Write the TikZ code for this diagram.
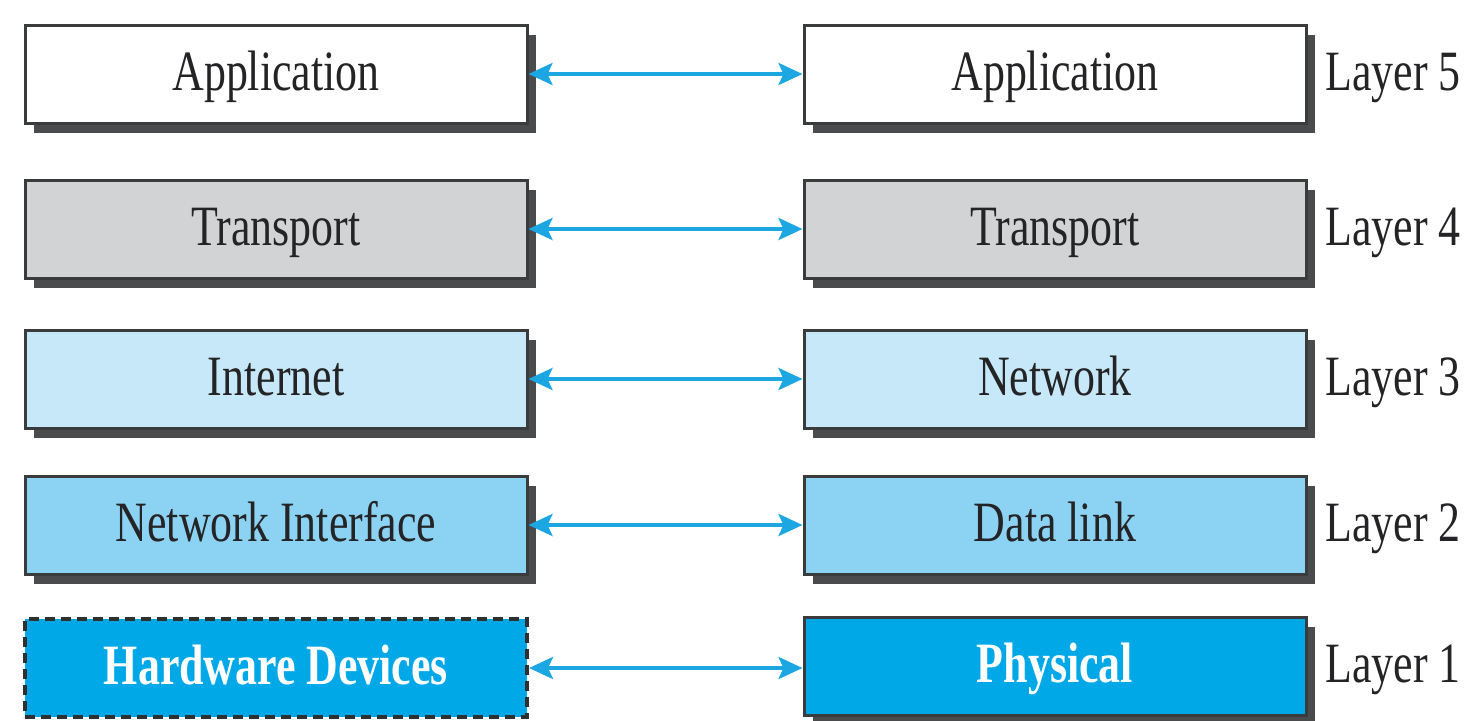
\documentclass[tikz,border=0pt]{standalone}
\usepackage{fontspec}
\setmainfont{Liberation Serif}[FakeStretch=0.77]
\usetikzlibrary{shadows,arrows.meta}
\definecolor{boxborder}{HTML}{3A3B3D}
\definecolor{shadowgray}{HTML}{4A4B4D}
\definecolor{txt}{HTML}{242426}
\definecolor{grayfill}{HTML}{D1D3D4}
\definecolor{lightblue}{HTML}{C6E8F8}
\definecolor{midblue}{HTML}{8CD3F3}
\definecolor{deepblue}{HTML}{00A8E8}
\definecolor{arrowblue}{HTML}{1CA7E2}
\begin{document}
\begin{tikzpicture}[x=0.5pt,y=-0.5pt,
  layerbox/.style={draw=boxborder, line width=1.5pt, minimum width=251pt, minimum height=49pt,
    inner sep=0pt, font=\fontsize{28.5}{30}\selectfont, text=txt, text height=18.8pt, text depth=2.8pt},
  shadowed/.style={drop shadow={shadow xshift=4.5pt, shadow yshift=-5pt, fill=shadowgray, opacity=1}},
  hwbox/.style={draw=boxborder!80!black, line width=2pt, dash pattern=on 5pt off 3pt},
  boldwhite/.style={text=white, font=\fontsize{28.5}{30}\selectfont\bfseries},
  layerlabel/.style={anchor=west, inner sep=0pt, font=\fontsize{28.5}{30}\selectfont, text=txt,
    text height=18.8pt, text depth=2.8pt},
  link/.style={draw=arrowblue, line width=2pt,
    {Stealth[length=12pt,width=11pt,inset=2.5pt]}-{Stealth[length=12pt,width=11pt,inset=2.5pt]}}
]
\useasboundingbox (0,0) rectangle (1469,720);
% left column
\node[layerbox, shadowed, fill=white]     (l5) at (276,74)  {Application};
\node[layerbox, shadowed, fill=grayfill]  (l4) at (276,229) {Transport};
\node[layerbox, shadowed, fill=lightblue] (l3) at (276,379) {Internet};
\node[layerbox, shadowed, fill=midblue]   (l2) at (276,525) {Network Interface};
\node[layerbox, hwbox, fill=deepblue, boldwhite] (l1) at (276,668) {Hardware Devices};
% right column
\node[layerbox, shadowed, fill=white]     (r5) at (1055,74)  {Application};
\node[layerbox, shadowed, fill=grayfill]  (r4) at (1055,229) {Transport};
\node[layerbox, shadowed, fill=lightblue] (r3) at (1055,379) {Network};
\node[layerbox, shadowed, fill=midblue]   (r2) at (1055,525) {Data link};
\node[layerbox, shadowed, fill=deepblue, boldwhite] (r1) at (1055,666) {Physical};
% layer labels
\node[layerlabel] (t5) at (1325,74)  {Layer 5};
\node[layerlabel] (t4) at (1325,229) {Layer 4};
\node[layerlabel] (t3) at (1325,379) {Layer 3};
\node[layerlabel] (t2) at (1325,525) {Layer 2};
\node[layerlabel] (t1) at (1325,666) {Layer 1};
% connectors
\draw[link] (l5.east) -- (r5.west);
\draw[link] (l4.east) -- (r4.west);
\draw[link] (l3.east) -- (r3.west);
\draw[link] (l2.east) -- (r2.west);
\draw[link] (l1.east) -- (r1.west |- l1.east);
\end{tikzpicture}
\end{document}
